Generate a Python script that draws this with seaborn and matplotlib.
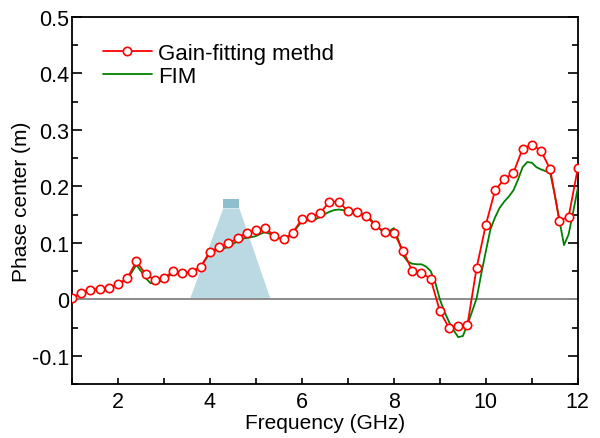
import numpy as np
import pandas as pd
import matplotlib
matplotlib.use("Agg")
import matplotlib.pyplot as plt
import seaborn as sns
from matplotlib.ticker import MultipleLocator, FixedLocator, FixedFormatter
from matplotlib.patches import Polygon, Rectangle

# Gain-fitting method (red, markers every 0.2 GHz)
freq_gain = [round(1.0 + 0.2 * i, 1) for i in range(56)]
phase_gain = [
    0.002, 0.012, 0.017, 0.018, 0.020, 0.027, 0.037, 0.067, 0.045, 0.034,
    0.037, 0.050, 0.047, 0.048, 0.058, 0.084, 0.092, 0.099, 0.108, 0.118,
    0.122, 0.127, 0.112, 0.106, 0.118, 0.142, 0.145, 0.153, 0.173, 0.173,
    0.156, 0.155, 0.147, 0.131, 0.119, 0.118, 0.086, 0.050, 0.047, 0.036,
    -0.021, -0.051, -0.047, -0.045, 0.056, 0.132, 0.193, 0.213, 0.224, 0.267,
    0.274, 0.263, 0.230, 0.139, 0.146, 0.232,
]

# FIM (green, every 0.1 GHz)
freq_fim = [round(1.0 + 0.1 * i, 1) for i in range(111)]
phase_fim = [
    0.000, 0.006, 0.011, 0.014, 0.016, 0.017, 0.018, 0.019, 0.020, 0.023,
    0.027, 0.031, 0.036, 0.048, 0.061, 0.050, 0.038, 0.029, 0.028, 0.031,
    0.035, 0.041, 0.047, 0.047, 0.046, 0.047, 0.048, 0.052, 0.058, 0.070,
    0.082, 0.086, 0.088, 0.090, 0.093, 0.098, 0.103, 0.107, 0.109, 0.110,
    0.112, 0.116, 0.119, 0.116, 0.110, 0.108, 0.106, 0.110, 0.117, 0.128,
    0.138, 0.140, 0.140, 0.142, 0.146, 0.151, 0.155, 0.158, 0.159, 0.158,
    0.156, 0.154, 0.153, 0.151, 0.148, 0.141, 0.133, 0.124, 0.118, 0.121,
    0.126, 0.105, 0.078, 0.067, 0.063, 0.062, 0.062, 0.058, 0.050, 0.030,
    0.000, -0.022, -0.040, -0.055, -0.067, -0.065, -0.045, -0.022, 0.002, 0.045,
    0.085, 0.124, 0.145, 0.162, 0.173, 0.182, 0.193, 0.212, 0.234, 0.243,
    0.242, 0.234, 0.230, 0.227, 0.224, 0.185, 0.140, 0.096, 0.115, 0.155,
    0.197,
]

y_ticks = [-0.1, 0.0, 0.1, 0.2, 0.3, 0.4, 0.5]
y_tick_labels = ["-0.1", "0", "0.1", "0.2", "0.3", "0.4", "0.5"]
x_ticks = [2, 4, 6, 8, 10, 12]

sns.set_style("ticks")
plt.rcParams["font.family"] = ["Liberation Sans", "DejaVu Sans"]
plt.rcParams["text.color"] = "black"
plt.rcParams["axes.labelcolor"] = "black"

fig = plt.figure(figsize=(6.0, 4.39), dpi=100)
ax = fig.add_axes([0.12, 0.123, 0.843, 0.836])

# beam illustration
trap = Polygon([(3.565, 0.0), (5.32, 0.0), (4.64, 0.161), (4.29, 0.161)],
               closed=True, facecolor="#bad9e2", edgecolor="none", zorder=1)
ax.add_patch(trap)
ax.add_patch(Rectangle((4.29, 0.161), 0.35, 0.016, facecolor="#8fbecd",
                       edgecolor="none", zorder=1))

ax.axhline(0, color="#8c8c8c", lw=1.4, zorder=2)

df_fim = pd.DataFrame({"Frequency": freq_fim, "Phase": phase_fim})
df_gain = pd.DataFrame({"Frequency": freq_gain, "Phase": phase_gain})

sns.lineplot(data=df_gain, x="Frequency", y="Phase", ax=ax, color="#ff0000",
             lw=1.3, marker="o", markersize=6.0, markerfacecolor="white",
             markeredgecolor="#ff0000", markeredgewidth=1.2,
             label="Gain-fitting methd", zorder=4)
sns.lineplot(data=df_fim, x="Frequency", y="Phase", ax=ax, color="#008000",
             lw=1.3, label="FIM", zorder=3)

ax.set_xlim(1, 12)
ax.set_ylim(-0.15, 0.5)
ax.xaxis.set_major_locator(FixedLocator(x_ticks))
ax.xaxis.set_minor_locator(MultipleLocator(1))
ax.yaxis.set_major_locator(FixedLocator(y_ticks))
ax.yaxis.set_major_formatter(FixedFormatter(y_tick_labels))
ax.yaxis.set_minor_locator(MultipleLocator(0.05))

ax.tick_params(axis="both", which="both", direction="in", color="black",
               width=1.2, labelsize=15.5, labelcolor="black")
ax.tick_params(axis="x", which="both", length=4, pad=5)
ax.tick_params(axis="y", which="major", length=7, pad=2)
ax.tick_params(axis="y", which="minor", length=4)
ax.tick_params(axis="y", which="both", right=True)

for s in ax.spines.values():
    s.set_linewidth(1.3)
    s.set_color("black")

ax.set_xlabel("Frequency (GHz)", fontsize=15, labelpad=1, color="black")
ax.set_ylabel("Phase center (m)", fontsize=15, labelpad=1, color="black")

leg = ax.legend(loc="upper left", bbox_to_anchor=(0.061, 0.93), frameon=False,
                fontsize=16, handlelength=2.2, handletextpad=0.3,
                labelspacing=0.1, borderpad=0, borderaxespad=0,
                labelcolor="black")

fig.savefig("out.png", dpi=100)
